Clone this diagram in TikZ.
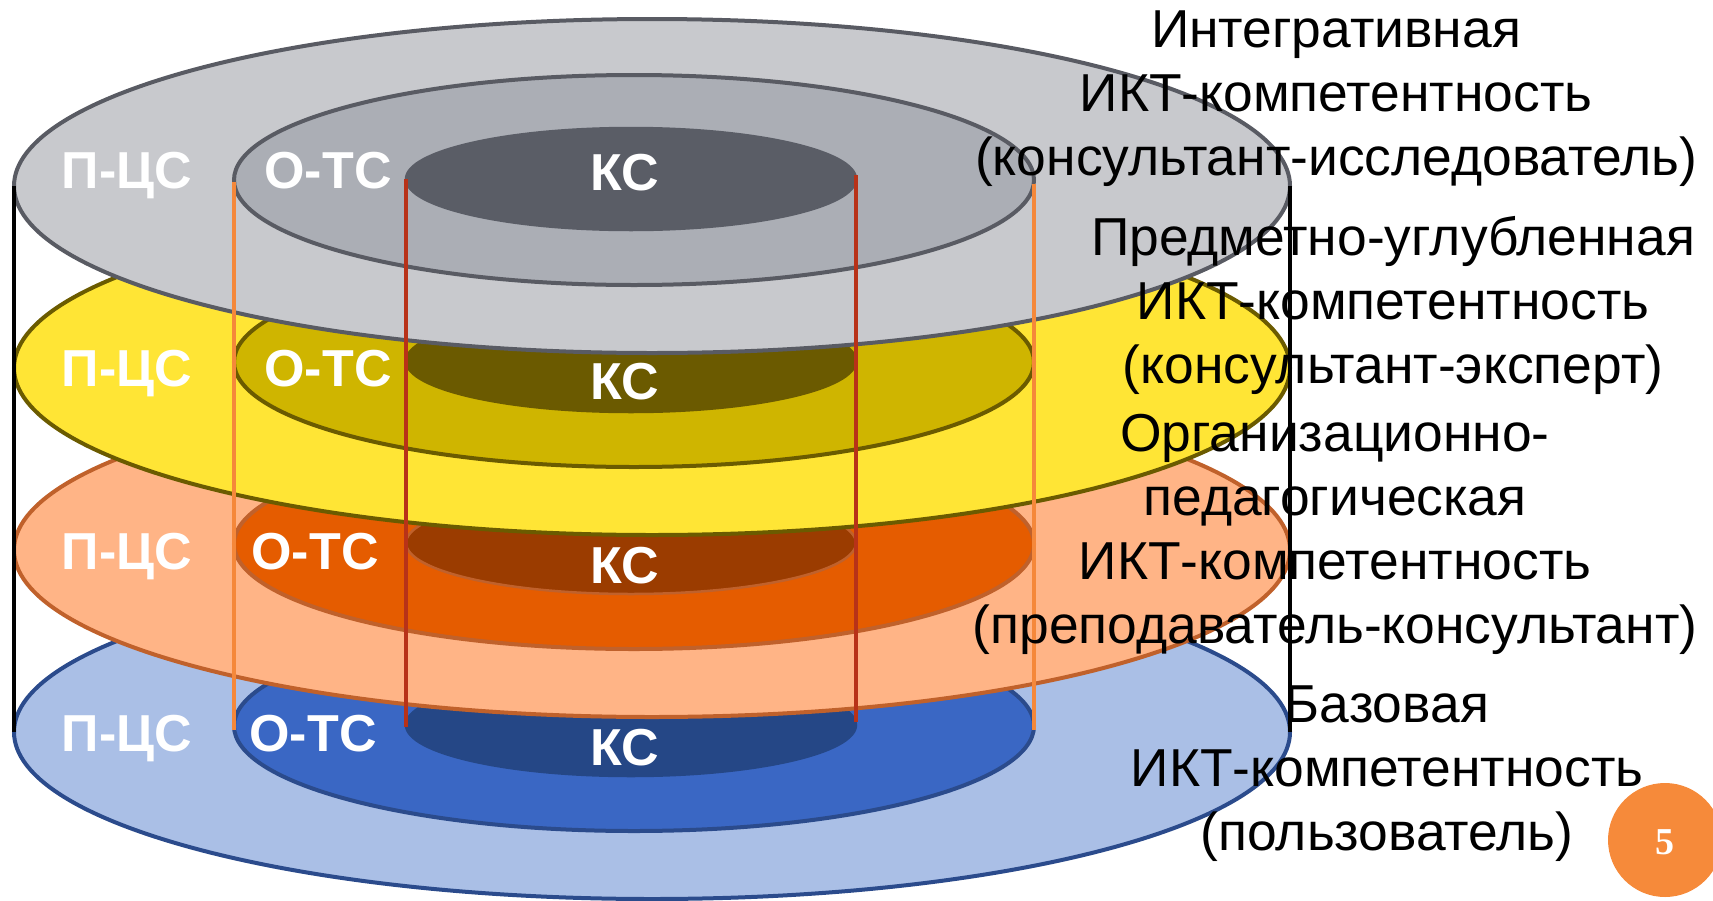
\documentclass[tikz,border=0pt]{standalone}
\usepackage{fontspec}
\setmainfont{Liberation Sans}
\newfontfamily\numfont{Liberation Serif}
\definecolor{gOut}{HTML}{C8C9CD}
\definecolor{gMid}{HTML}{ABAEB5}
\definecolor{gKs}{HTML}{5A5D66}
\definecolor{gLn}{HTML}{595B63}
\definecolor{yOut}{HTML}{FFE535}
\definecolor{yMid}{HTML}{CFB500}
\definecolor{yKs}{HTML}{6B5A00}
\definecolor{yLn}{HTML}{6B5B00}
\definecolor{oOut}{HTML}{FFB486}
\definecolor{oMid}{HTML}{E55C00}
\definecolor{oKs}{HTML}{9B3C00}
\definecolor{oLn}{HTML}{C0612B}
\definecolor{bOut}{HTML}{AABFE6}
\definecolor{bMid}{HTML}{3A67C4}
\definecolor{bKs}{HTML}{254786}
\definecolor{bLn}{HTML}{2B4B8C}
\definecolor{orLine}{HTML}{F5883A}
\definecolor{rdLine}{HTML}{B83218}
\definecolor{pgCirc}{HTML}{F68A3A}
\newcommand\DiskLayer[7]{%
  \filldraw[fill=#2, draw=#3, line width=4pt] (652,#1) ellipse [x radius=638, y radius=167];
  \filldraw[fill=#4, draw=#3, line width=4pt] (634,{#1-6}) ellipse [x radius=400, y radius=105];
  \filldraw[fill=#5, draw=#6, line width=2.5pt] (631,{#1-7}) ellipse [x radius=225, y radius=51];
}
\begin{document}
\begin{tikzpicture}[x=1pt,y=-1pt,
  lbl/.style={text=white, font=\fontsize{52}{62}\selectfont\bfseries, anchor=base, inner sep=0pt},
  rt/.style={text=black, font=\fontsize{53.4}{64}\selectfont, anchor=base, inner sep=0pt},
  vline/.style={line width=4pt}]
\useasboundingbox (0,0) rectangle (1713,900);
% layers, bottom to top
\DiskLayer{732}{bOut}{bLn}{bMid}{bKs}{bKs}{}
\DiskLayer{550}{oOut}{oLn}{oMid}{oKs}{oLn}{}
\DiskLayer{368}{yOut}{yLn}{yMid}{yKs}{yKs}{}
\DiskLayer{186}{gOut}{gLn}{gMid}{gKs}{gKs}{}
% labels
\node[lbl] (pc1) at (127,188) {П-ЦС};
\node[lbl] (ot1) at (328,188) {О-ТС};
\node[lbl] (ks1) at (625,190) {КС};
\node[lbl] (pc2) at (127,386) {П-ЦС};
\node[lbl] (ot2) at (328,386) {О-ТС};
\node[lbl] (ks2) at (625,399) {КС};
\node[lbl] (pc3) at (127,569) {П-ЦС};
\node[lbl] (ot3) at (315,569) {О-ТС};
\node[lbl] (ks3) at (625,583) {КС};
\node[lbl] (pc4) at (127,751) {П-ЦС};
\node[lbl] (ot4) at (313,751) {О-ТС};
\node[lbl] (ks4) at (625,765) {КС};
% vertical connectors
\coordinate (bkLt) at (14,186);  \coordinate (bkLb) at (14,732);
\coordinate (bkRt) at (1290,186); \coordinate (bkRb) at (1290,732);
\coordinate (orLt) at (234,182); \coordinate (orLb) at (234,730);
\coordinate (orRt) at (1034,184); \coordinate (orRb) at (1034,730);
\coordinate (rdLt) at (406,179); \coordinate (rdLb) at (406,727);
\coordinate (rdRt) at (856,175); \coordinate (rdRb) at (856,722);
\draw[vline, black] (bkLt) -- (bkLb);
\draw[vline, black] (bkRt) -- (bkRb);
\draw[vline, orLine] (orLt) -- (orLb);
\draw[vline, orLine] (orRt) -- (orRb);
\draw[vline, rdLine] (rdLt) -- (rdLb);
\draw[vline, rdLine] (rdRt) -- (rdRb);
% right-hand texts
\node[rt] (a1) at (1336,47) {Интегративная};
\node[rt] (a2) at (1336,111) {ИКТ-компетентность};
\node[rt] (a3) at (1336,175) {(консультант-исследователь)};
\node[rt] (b1) at (1393,255) {Предметно-углубленная};
\node[rt] (b2) at (1393,319) {ИКТ-компетентность};
\node[rt] (b3) at (1393,383) {(консультант-эксперт)};
\node[rt] (c1) at (1335,451) {Организационно-};
\node[rt] (c2) at (1335,515) {педагогическая};
\node[rt] (c3) at (1335,579) {ИКТ-компетентность};
\node[rt] (c4) at (1335,643) {(преподаватель-консультант)};
\node[rt] (d1) at (1387,722) {Базовая};
\node[rt] (d2) at (1387,786) {ИКТ-компетентность};
\node[rt] (d3) at (1387,850) {(пользователь)};
% page number
\fill[pgCirc] (1665,840) circle [radius=57];
\node[text=white, font=\numfont\bfseries\fontsize{38}{42}\selectfont, anchor=base, inner sep=0pt] (pg) at (1665,854) {5};
\end{tikzpicture}
\end{document}
